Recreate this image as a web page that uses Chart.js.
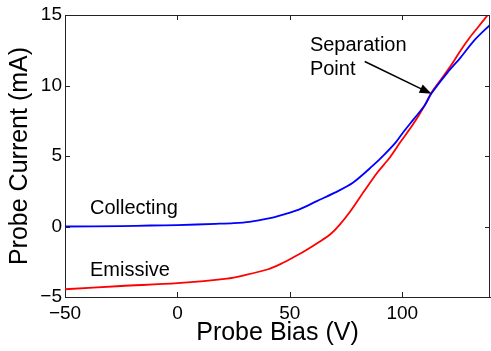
<!DOCTYPE html>
<html>
<head>
<meta charset="utf-8">
<script src="https://cdn.jsdelivr.net/npm/chart.js@4.4.0/dist/chart.umd.min.js"></script>
<style>
  html, body { margin: 0; padding: 0; background: #fff; }
</style>
</head>
<body>
<canvas id="probe-chart" width="491" height="351"></canvas>
<script>
// Collecting probe trace (blue), bias in V and current in mA
let collectingBias = [-50, -25, -12, 0, 17, 25, 32, 40, 47, 54, 62, 70, 78, 87, 92, 97, 100, 105, 110, 113, 120, 126, 132, 139]
let collectingCurrent = [0.0, 0.03, 0.07, 0.1, 0.19, 0.24, 0.33, 0.55, 0.85, 1.2, 1.8, 2.4, 3.1, 4.33, 5.1, 5.95, 6.6, 7.6, 8.6, 9.45, 10.9, 12.0, 13.2, 14.3]

// Emissive probe trace (red)
let emissiveBias = [-50, -25, 0, 22, 30, 40, 46, 52, 57, 63, 68, 72, 77, 83, 89, 94, 99, 105, 110, 113, 118, 122, 126, 130, 134, 138]
let emissiveCurrent = [-4.45, -4.22, -4.02, -3.7, -3.45, -3.05, -2.65, -2.15, -1.7, -1.1, -0.55, 0.1, 1.1, 2.5, 3.85, 4.8, 5.95, 7.3, 8.6, 9.5, 10.6, 11.5, 12.5, 13.4, 14.2, 15.0]

// Tick labels on each axis
let xTicks = [-50, 0, 50, 100]
let yTicks = [-5, 0, 5, 10, 15]

let fontFamily = "'Liberation Sans', Arial, sans-serif"
let axisColor = '#222'

// turn the value lists into {x, y} points
function toPoints(xs, ys) {
    return xs.map(function (v, i) { return {x: v, y: ys[i]} })
}

// MATLAB style minus sign
function minusLabel(value) {
    return String(value).replace('-', '\u2212')
}

// Frame, inward ticks and the text labels / arrow
let annotations = {
    id: 'annotations',
    afterDatasetsDraw: function (chart) {
        let ctx = chart.ctx
        let x = chart.scales.x
        let y = chart.scales.y
        let area = chart.chartArea
        ctx.save()
        ctx.strokeStyle = axisColor
        ctx.lineWidth = 1
        ctx.beginPath()
        ctx.moveTo(area.left, area.top + 0.5)
        ctx.lineTo(area.right, area.top + 0.5)
        ctx.moveTo(area.right - 0.5, area.top)
        ctx.lineTo(area.right - 0.5, area.bottom)
        xTicks.forEach(function (v) {
            let px = Math.round(x.getPixelForValue(v)) + 0.5
            ctx.moveTo(px, area.bottom)
            ctx.lineTo(px, area.bottom - 5)
            ctx.moveTo(px, area.top)
            ctx.lineTo(px, area.top + 5)
        })
        yTicks.forEach(function (v) {
            let py = Math.round(y.getPixelForValue(v)) + 0.5
            ctx.moveTo(area.left, py)
            ctx.lineTo(area.left + 5, py)
            ctx.moveTo(area.right, py)
            ctx.lineTo(area.right - 5, py)
        })
        ctx.stroke()

        // curve labels
        ctx.fillStyle = '#000'
        ctx.font = '20px ' + fontFamily
        ctx.textAlign = 'left'
        ctx.textBaseline = 'middle'
        ctx.fillText('Collecting', x.getPixelForValue(-38.9), y.getPixelForValue(1.28))
        ctx.fillText('Emissive', x.getPixelForValue(-38.9), y.getPixelForValue(-3.15))
        ctx.fillText('Separation', x.getPixelForValue(58.9), y.getPixelForValue(12.84))
        ctx.fillText('Point', x.getPixelForValue(58.9), y.getPixelForValue(11.17))

        // arrow pointing at the crossing
        let x0 = x.getPixelForValue(83.3), y0 = y.getPixelForValue(11.7)
        let x1 = x.getPixelForValue(113), y1 = y.getPixelForValue(9.41)
        let ang = Math.atan2(y1 - y0, x1 - x0)
        ctx.strokeStyle = '#000'
        ctx.lineWidth = 1.5
        ctx.beginPath()
        ctx.moveTo(x0, y0)
        ctx.lineTo(x1 - 8 * Math.cos(ang), y1 - 8 * Math.sin(ang))
        ctx.stroke()
        ctx.beginPath()
        ctx.moveTo(x1, y1)
        ctx.lineTo(x1 - 12 * Math.cos(ang) + 4.5 * Math.sin(ang), y1 - 12 * Math.sin(ang) - 4.5 * Math.cos(ang))
        ctx.lineTo(x1 - 12 * Math.cos(ang) - 4.5 * Math.sin(ang), y1 - 12 * Math.sin(ang) + 4.5 * Math.cos(ang))
        ctx.closePath()
        ctx.fill()
        ctx.restore()
    }
}

let cxt = document.querySelector('#probe-chart').getContext('2d')

let chart = new Chart(cxt, {
    type: 'line',
    data: {
        datasets: [
            {
                label: 'Collecting',
                data: toPoints(collectingBias, collectingCurrent),
                borderColor: '#0000ff',
                borderWidth: 1.8,
                pointRadius: 0,
                tension: 0.3
            },
            {
                label: 'Emissive',
                data: toPoints(emissiveBias, emissiveCurrent),
                borderColor: '#ff0000',
                borderWidth: 1.8,
                pointRadius: 0,
                tension: 0.3
            }
        ]
    },
    options: {
        responsive: false,
        animation: false,
        events: [],
        layout: { padding: { top: 15, right: 1, left: 0, bottom: 0 } },
        plugins: {
            legend: { display: false },
            tooltip: { enabled: false }
        },
        scales: {
            x: {
                type: 'linear',
                min: -50,
                max: 139,
                afterBuildTicks: function (scale) {
                    scale.ticks = xTicks.map(function (v) { return {value: v} })
                },
                afterFit: function (scale) { scale.height = 54 },
                grid: { display: false, drawTicks: false },
                border: { display: true, color: axisColor, width: 1 },
                ticks: {
                    color: '#000',
                    padding: 5,
                    maxRotation: 0,
                    font: { family: fontFamily, size: 19 },
                    callback: minusLabel
                },
                title: {
                    display: true,
                    text: 'Probe Bias (V)',
                    color: '#000',
                    font: { family: fontFamily, size: 25 },
                    padding: { top: 0, bottom: 3 }
                }
            },
            y: {
                min: -5,
                max: 15,
                afterBuildTicks: function (scale) {
                    scale.ticks = yTicks.map(function (v) { return {value: v} })
                },
                afterFit: function (scale) { scale.width = 65 },
                grid: { display: false, drawTicks: false },
                border: { display: true, color: axisColor, width: 1 },
                ticks: {
                    color: '#000',
                    padding: 3,
                    font: { family: fontFamily, size: 19 },
                    callback: minusLabel
                },
                title: {
                    display: true,
                    text: 'Probe Current (mA)',
                    color: '#000',
                    font: { family: fontFamily, size: 25 },
                    padding: { top: 5, bottom: 0 }
                }
            }
        }
    },
    plugins: [annotations]
})
</script>
</body>
</html>
